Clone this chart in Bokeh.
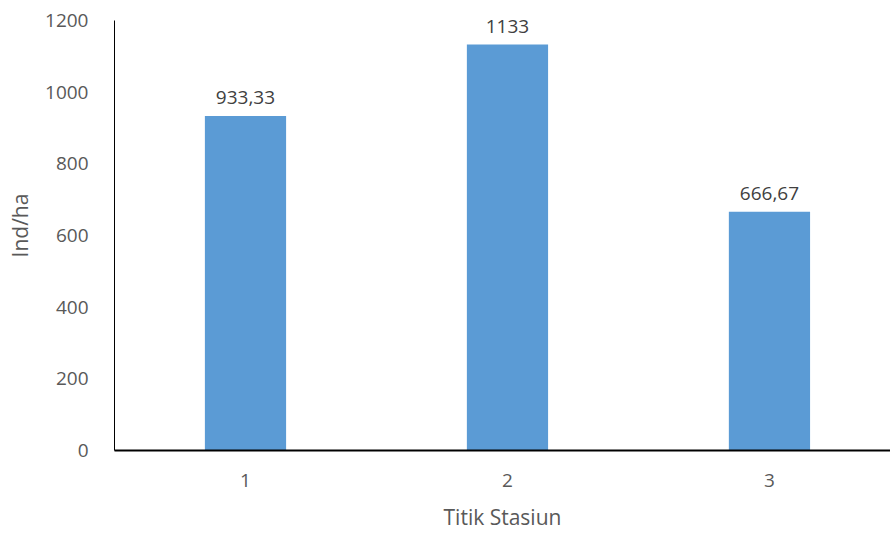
from bokeh.plotting import figure
from bokeh.models import ColumnDataSource, Range1d, FixedTicker, LabelSet
from bokeh.core.properties import value
from bokeh.embed import file_html
from bokeh.resources import INLINE

stations = [1, 2, 3]
station_labels = ["1", "2", "3"]
density = [933.33, 1133, 666.67]
density_text = ["933,33", "1133", "666,67"]
y_ticks = [0, 200, 400, 600, 800, 1000, 1200]

FONT = "Open Sans"
TXT = "#595959"

src = ColumnDataSource(dict(x=stations, top=density, label=density_text))

p = figure(width=890, height=533, output_backend="svg", toolbar_location=None,
           x_range=Range1d(0.5, 3.462), y_range=Range1d(0, 1256),
           min_border_left=114, min_border_right=0, min_border_top=0, min_border_bottom=83)
p.outline_line_color = None
p.grid.visible = False

p.vbar(x="x", top="top", width=0.31, source=src, fill_color="#5B9BD5", line_color=None)

labels = LabelSet(x="x", y="top", text="label", source=src, text_align="center",
                  y_offset=12, text_font=value(FONT), text_font_size="19px", text_color="#404040")
p.add_layout(labels)

p.xaxis.ticker = FixedTicker(ticks=stations)
p.xaxis.major_label_overrides = {s: l for s, l in zip(stations, station_labels)}
p.yaxis.ticker = FixedTicker(ticks=y_ticks)
p.yaxis.bounds = (0, 1200)

for ax in (p.xaxis[0], p.yaxis[0]):
    ax.major_tick_line_color = None
    ax.minor_tick_line_color = None
    ax.major_label_text_font = FONT
    ax.major_label_text_font_size = "19px"
    ax.major_label_text_color = TXT
    ax.axis_label_text_font = FONT
    ax.axis_label_text_font_size = "21px"
    ax.axis_label_text_color = TXT
    ax.axis_label_text_font_style = "normal"
    ax.major_label_standoff = 20

p.xaxis.major_label_standoff = 17
p.xaxis.axis_line_color = "#000000"
p.xaxis.axis_line_width = 2
p.yaxis.axis_line_color = "#000000"
p.yaxis.axis_line_width = 1
p.xaxis.axis_label = "Titik Stasiun"
p.yaxis.axis_label = "Ind/ha"
p.xaxis.axis_label_standoff = 13
p.yaxis.axis_label_standoff = 8

open("out.html", "w").write(file_html(p, INLINE))
